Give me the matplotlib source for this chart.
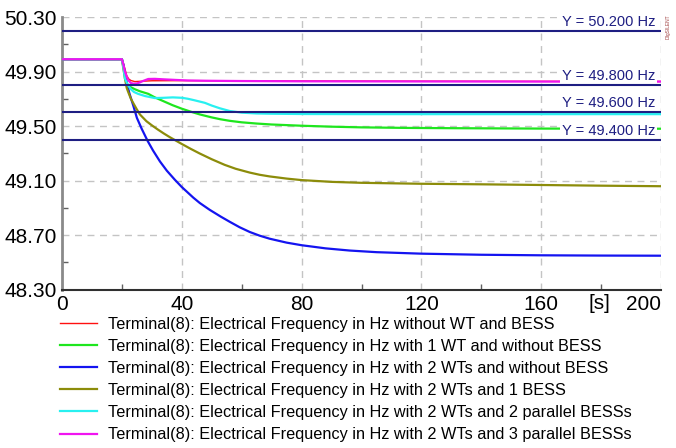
import matplotlib
matplotlib.use("Agg")
import matplotlib.pyplot as plt
from matplotlib.ticker import MultipleLocator, FixedLocator
from matplotlib.transforms import blended_transform_factory

plt.rcParams['font.family'] = ['Liberation Sans', 'DejaVu Sans']

# series (time in s, frequency in Hz)
t_red = [0, 20, 20.5, 21, 21.6, 22.3, 23, 24.3, 26, 30, 40, 60, 100, 150, 200]
f_red = [49.99, 49.99, 49.96, 49.92, 49.87, 49.845, 49.834, 49.826, 49.828,
         49.832, 49.833, 49.832, 49.830, 49.828, 49.827]

t_green = [0, 20, 20.5, 21, 21.6, 22.5, 24.3, 26, 28.8, 31, 34.3, 37, 40, 43,
           46, 50, 53, 56, 60, 65, 70, 80, 90, 100, 115, 130, 160, 200]
f_green = [49.99, 49.99, 49.94, 49.87, 49.81, 49.79, 49.77, 49.755, 49.736, 49.71,
           49.678, 49.652, 49.627, 49.605, 49.585, 49.563, 49.549, 49.538, 49.527,
           49.518, 49.511, 49.502, 49.495, 49.49, 49.486, 49.484, 49.481, 49.48]

t_blue = [0, 20, 20.5, 21, 21.6, 22.5, 23.8, 25, 26.6, 28.6, 30.4, 32.7, 35, 37.7,
          40, 43.8, 46, 49.3, 53, 56, 59.3, 62.7, 66, 69.3, 75, 80, 88, 96, 105,
          120, 140, 160, 180, 200]
f_blue = [49.99, 49.99, 49.95, 49.89, 49.82, 49.74, 49.65, 49.56, 49.48, 49.39,
          49.32, 49.24, 49.172, 49.105, 49.052, 48.975, 48.935, 48.885, 48.835,
          48.797, 48.757, 48.722, 48.695, 48.673, 48.644, 48.625, 48.602, 48.586,
          48.574, 48.563, 48.555, 48.551, 48.549, 48.548]

t_olive = [0, 20, 20.5, 21, 21.6, 22.1, 23, 24, 24.9, 26, 28.2, 30, 32, 34, 36, 38,
           40, 43, 46, 50, 54.3, 58, 62.7, 66, 69.3, 75, 80, 90, 100, 120, 140,
           160, 180, 200]
f_olive = [49.99, 49.99, 49.92, 49.85, 49.78, 49.75, 49.70, 49.66, 49.625, 49.585,
           49.535, 49.505, 49.474, 49.445, 49.418, 49.393, 49.368, 49.332, 49.298,
           49.256, 49.215, 49.186, 49.158, 49.142, 49.13, 49.114, 49.103, 49.09,
           49.083, 49.076, 49.072, 49.067, 49.062, 49.058]

t_cyan = [0, 20, 20.5, 21, 22, 23, 24, 25.4, 27.7, 31, 34, 37, 40, 42, 44, 47.7,
          50, 52.7, 56, 60, 65, 70, 80, 100, 140, 200]
f_cyan = [49.99, 49.99, 49.93, 49.85, 49.80, 49.77, 49.75, 49.736, 49.72, 49.705,
          49.707, 49.71, 49.707, 49.70, 49.69, 49.67, 49.65, 49.63, 49.61, 49.598,
          49.592, 49.59, 49.588, 49.587, 49.587, 49.587]

t_mag = [0, 20, 20.5, 21, 22, 23, 24, 25, 26, 27, 28.8, 31, 34.3, 38, 42, 48, 60,
         80, 120, 160, 200]
f_mag = [49.99, 49.99, 49.95, 49.90, 49.84, 49.815, 49.81, 49.812, 49.82, 49.83,
         49.845, 49.846, 49.842, 49.838, 49.834, 49.832, 49.83, 49.828, 49.827,
         49.826, 49.826]

limits = [50.2, 49.8, 49.6, 49.4]
limit_labels = ["Y = 50.200 Hz", "Y = 49.800 Hz", "Y = 49.600 Hz", "Y = 49.400 Hz"]

x_ticks = [0, 40, 80, 120, 160, 200]
y_ticks = [48.3, 48.7, 49.1, 49.5, 49.9, 50.3]
y_ticklabels = ["48.30", "48.70", "49.10", "49.50", "49.90", "50.30"]

legend_labels = [
    "Terminal(8): Electrical Frequency in Hz without WT and BESS",
    "Terminal(8): Electrical Frequency in Hz with 1 WT and without BESS",
    "Terminal(8): Electrical Frequency in Hz with 2 WTs and without BESS",
    "Terminal(8): Electrical Frequency in Hz with 2 WTs and 1 BESS",
    "Terminal(8): Electrical Frequency in Hz with 2 WTs and 2 parallel BESSs",
    "Terminal(8): Electrical Frequency in Hz with 2 WTs and 3 parallel BESSs",
]

navy = "#1e1e82"

fig = plt.figure(figsize=(6.76, 4.48), dpi=100)
ax = fig.add_axes([62 / 676, 1 - 289.5 / 448, 599 / 676, 272.5 / 448])

series = [
    (t_red, f_red, "#ff1010", 1.0),
    (t_green, f_green, "#1ee61e", 1.6),
    (t_blue, f_blue, "#1414f0", 1.6),
    (t_olive, f_olive, "#8c8c0a", 1.6),
    (t_cyan, f_cyan, "#28f0f0", 1.6),
    (t_mag, f_mag, "#f014f0", 1.6),
]
handles = []
for t, f, c, lw in series:
    h, = ax.plot(t, f, color=c, lw=lw, zorder=3)
    handles.append(h)

for y, lab in zip(limits, limit_labels):
    ax.axhline(y, color=navy, lw=1.5, zorder=6)
    ax.text(198, y + 0.014, lab, ha='right', va='bottom', fontsize=10.5,
            color=navy, zorder=5,
            bbox=dict(boxstyle='square,pad=0.12', fc='white', ec='none'))

ax.set_xlim(0, 200)
ax.set_ylim(48.30, 50.30)
ax.set_xticks(x_ticks)
xl = ax.set_xticklabels([str(v) for v in x_ticks])
xl[-1].set_horizontalalignment('right')
ax.xaxis.set_minor_locator(MultipleLocator(20))
ax.set_yticks(y_ticks)
ax.set_yticklabels(y_ticklabels)
ax.yaxis.set_minor_locator(FixedLocator([48.5, 48.9, 49.3, 49.7, 50.1]))
ax.tick_params(axis='both', which='major', labelsize=15, length=0, pad=4)
ax.tick_params(axis='both', which='minor', direction='in', length=4,
               color='#606060', width=1)
ax.grid(True, which='major', color='#c4c4c4', ls=(0, (5, 4)), lw=1)

ax.spines['top'].set_visible(False)
ax.spines['right'].set_visible(False)
ax.spines['left'].set_color('#8a8a8a')
ax.spines['left'].set_linewidth(2)
ax.spines['bottom'].set_color('#303030')
ax.spines['bottom'].set_linewidth(1.5)

tr = blended_transform_factory(ax.transData, ax.transAxes)
ax.text(179.6, -0.015, "[s]", transform=tr, ha='center', va='top', fontsize=15)

fig.text(0.988, 0.94, "DIgSILENT", rotation=90, fontsize=3.5, color='#a04040',
         ha='center', va='center')

fig.legend(handles, legend_labels, loc='upper left',
           bbox_to_anchor=(60 / 676, 1 - 316.5 / 448), frameon=False,
           fontsize=11.7, handlelength=2.25, handletextpad=0.68,
           labelspacing=0.44, borderpad=0, borderaxespad=0)

fig.savefig("out.png", dpi=100)
